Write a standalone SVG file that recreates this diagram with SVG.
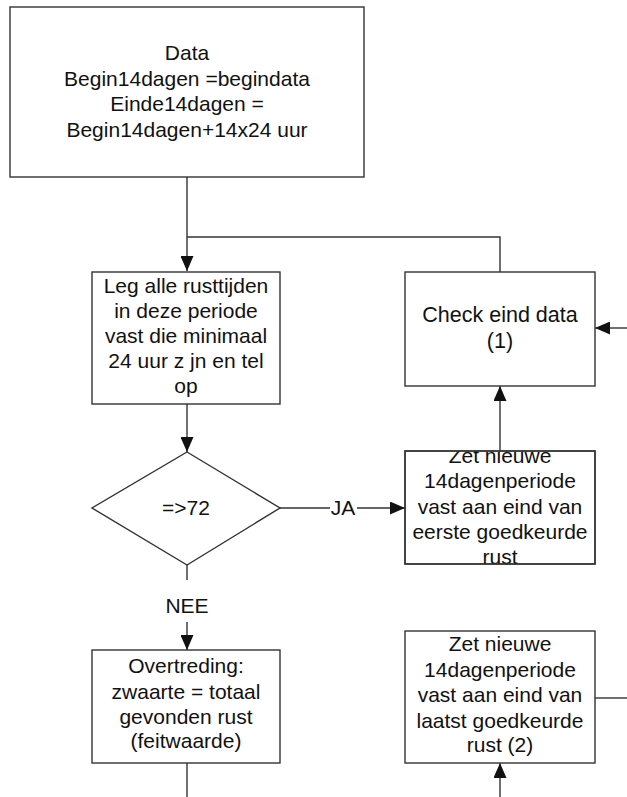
<svg xmlns="http://www.w3.org/2000/svg" width="627" height="797" viewBox="0 0 627 797">
<style>
.box{fill:#fff;stroke:#333;stroke-width:1.4}
.ln{fill:none;stroke:#333;stroke-width:1.4}
.t{font-family:"Liberation Sans",Arial,sans-serif;font-size:21px;fill:#111;text-anchor:middle}
.tc{font-size:21.5px}
</style>
<defs>
<marker id="ah" markerUnits="userSpaceOnUse" markerWidth="15" markerHeight="13" refX="15" refY="6.5" orient="auto">
<path d="M0,0 L15,6.5 L0,13 z" fill="#111"/>
</marker>
<clipPath id="cz1"><rect x="405" y="451" width="190" height="113"/></clipPath>
</defs>
<rect width="627" height="797" fill="#fff"/>
<g id="connectors">
<path class="ln" d="M187,177 V271" marker-end="url(#ah)"/>
<path class="ln" d="M500,272 V237 H187"/>
<path class="ln" d="M187,404 V452" marker-end="url(#ah)"/>
<path class="ln" d="M280,508 H330"/>
<text class="t" x="343" y="515">JA</text>
<path class="ln" d="M357,508 H405" marker-end="url(#ah)"/>
<path class="ln" d="M187,565 V580"/>
<text class="t" x="187" y="613">NEE</text>
<path class="ln" d="M187,622 V650" marker-end="url(#ah)"/>
<path class="ln" d="M500,451 V386" marker-end="url(#ah)"/>
<path class="ln" d="M627,328 H595" marker-end="url(#ah)"/>
<path class="ln" d="M187,763 V797"/>
<path class="ln" d="M595,698 H627"/>
<path class="ln" d="M500,797 V763" marker-end="url(#ah)"/>
</g>
<g id="data">
<rect class="box" x="10" y="7" width="354" height="170"/>
<text class="t" x="187" y="60">Data</text>
<text class="t" x="187" y="86">Begin14dagen =begindata</text>
<text class="t" x="187" y="111">Einde14dagen =</text>
<text class="t" x="187" y="137">Begin14dagen+14x24 uur</text>
</g>
<g id="leg">
<rect class="box" x="92" y="272" width="188" height="132"/>
<text class="t" x="186" y="293">Leg alle rusttijden</text>
<text class="t" x="186" y="318">in deze periode</text>
<text class="t" x="186" y="343">vast die minimaal</text>
<text class="t" x="186" y="368">24 uur z jn en tel</text>
<text class="t" x="186" y="393">op</text>
</g>
<g id="check">
<rect class="box" x="405" y="272" width="190" height="114"/>
<text class="t tc" x="500" y="322">Check eind data</text>
<text class="t tc" x="500" y="348">(1)</text>
</g>
<g id="decision">
<path class="box" d="M187,452 L280,508 L187,565 L92,508 Z"/>
<text class="t" x="186" y="515">=&gt;72</text>
</g>
<g id="zet1">
<rect class="box" x="405" y="451" width="190" height="113"/>
<g clip-path="url(#cz1)">
<text class="t" x="500" y="463">Zet nieuwe</text>
<text class="t" x="500" y="488">14dagenperiode</text>
<text class="t" x="500" y="514">vast aan eind van</text>
<text class="t" x="500" y="539">eerste goedkeurde</text>
<text class="t" x="500" y="564">rust</text>
</g>
<rect x="405" y="451" width="190" height="113" fill="none" stroke="#333" stroke-width="1.4"/>
</g>
<g id="overtreding">
<rect class="box" x="92" y="650" width="188" height="113"/>
<text class="t" x="186" y="673">Overtreding:</text>
<text class="t" x="186" y="699">zwaarte = totaal</text>
<text class="t" x="186" y="724">gevonden rust</text>
<text class="t" x="186" y="748">(feitwaarde)</text>
</g>
<g id="zet2">
<rect class="box" x="405" y="631" width="190" height="132"/>
<text class="t" x="500" y="651">Zet nieuwe</text>
<text class="t" x="500" y="677">14dagenperiode</text>
<text class="t" x="500" y="702">vast aan eind van</text>
<text class="t" x="500" y="728">laatst goedkeurde</text>
<text class="t" x="500" y="752">rust (2)</text>
</g>
</svg>
